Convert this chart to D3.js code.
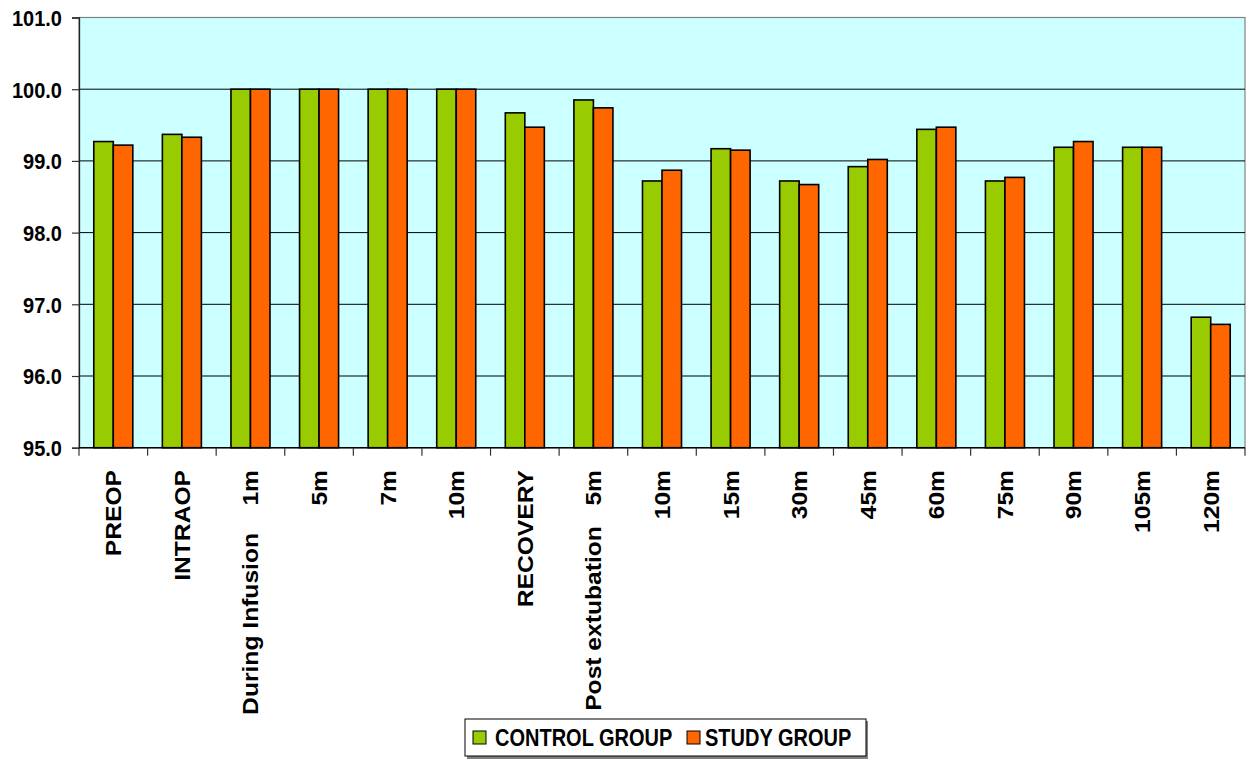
<!DOCTYPE html>
<html>
<head>
<meta charset="utf-8">
<script src="https://cdn.jsdelivr.net/npm/d3@7"></script>
<style>
  html, body { margin: 0; padding: 0; background: #ffffff; }
  svg { display: block; }
  text { font-family: Arial, "Liberation Sans", sans-serif; font-weight: bold; fill: #000; }
</style>
</head>
<body>
<svg id="chart" width="1250" height="760"></svg>
<script>
// Time points along the x axis
const categories = [
  "PREOP", "INTRAOP", "During Infusion    1m", "5m", "7m", "10m",
  "RECOVERY", "Post extubation   5m", "10m", "15m", "30m", "45m",
  "60m", "75m", "90m", "105m", "120m"
];

// Series values
const controlGroup = [99.27, 99.37, 100.0, 100.0, 100.0, 100.0, 99.67, 99.85, 98.72, 99.17, 98.72, 98.92, 99.44, 98.72, 99.19, 99.19, 96.82];
const studyGroup   = [99.22, 99.33, 100.0, 100.0, 100.0, 100.0, 99.47, 99.74, 98.87, 99.15, 98.67, 99.02, 99.47, 98.77, 99.27, 99.19, 96.72];

const seriesNames = ["CONTROL GROUP", "STUDY GROUP"];
const seriesColors = ["#99CC00", "#FF6600"];

// Y axis ticks
const yTicks = [95, 96, 97, 98, 99, 100, 101];

const svg = d3.select("#chart");
const plot = { left: 79, right: 1245, top: 17.5, bottom: 447.7 };
const stretch = 1.12; // vertical stretch applied to all labels

const x0 = d3.scaleBand()
  .domain(d3.range(categories.length))
  .range([plot.left, plot.right])
  .padding(0);

const bw = x0.bandwidth();
const x1 = d3.scaleBand()
  .domain([0, 1])
  .range([bw * 0.2155, bw * 0.7845])
  .padding(0);

const y = d3.scaleLinear().domain([95, 101]).range([plot.bottom, plot.top]);

// Plot area background
svg.append("rect")
  .attr("x", plot.left).attr("y", plot.top)
  .attr("width", plot.right - plot.left).attr("height", plot.bottom - plot.top)
  .attr("fill", "#CCFFFF")
  .attr("stroke", "#808080").attr("stroke-width", 1.2);

// Horizontal gridlines
svg.append("g")
  .selectAll("line")
  .data(yTicks.filter(d => d > 95 && d < 101))
  .join("line")
  .attr("x1", plot.left).attr("x2", plot.right)
  .attr("y1", d => y(d)).attr("y2", d => y(d))
  .attr("stroke", "#000").attr("stroke-width", 1);

// Y axis
const yAxis = svg.append("g")
  .attr("transform", `translate(${plot.left},0)`)
  .call(d3.axisLeft(y).tickValues(yTicks).tickSize(7).tickPadding(0).tickFormat(d3.format(".1f")));
yAxis.select(".domain").attr("stroke", "#222").attr("stroke-width", 1.3);
yAxis.selectAll(".tick line").attr("stroke", "#333").attr("stroke-width", 1.2);
yAxis.selectAll(".tick text")
  .attr("x", 0).attr("dy", null)
  .attr("dominant-baseline", "central")
  .attr("text-anchor", "end")
  .attr("font-size", 20)
  .attr("font-family", "Arial, 'Liberation Sans', sans-serif")
  .attr("font-weight", "bold")
  .attr("transform", `translate(-17,0) scale(1,${stretch})`);

// Bars
const series = [controlGroup, studyGroup];
const groups = svg.append("g")
  .selectAll("g")
  .data(categories.map((c, i) => i))
  .join("g")
  .attr("transform", i => `translate(${x0(i)},0)`);

groups.selectAll("rect")
  .data(i => series.map((s, k) => ({ k, v: s[i] })))
  .join("rect")
  .attr("x", d => x1(d.k))
  .attr("width", x1.bandwidth())
  .attr("y", d => y(d.v))
  .attr("height", d => y(95) - y(d.v))
  .attr("fill", d => seriesColors[d.k])
  .attr("stroke", "#000")
  .attr("stroke-width", 1.6);

// X axis
const xAxisG = svg.append("g").attr("transform", `translate(0,${plot.bottom})`);
xAxisG.append("line")
  .attr("x1", plot.left).attr("x2", plot.right)
  .attr("stroke", "#000").attr("stroke-width", 1.5);
xAxisG.selectAll(".xt")
  .data(d3.range(categories.length + 1))
  .join("line")
  .attr("class", "xt")
  .attr("x1", i => i < categories.length ? x0(i) : plot.right)
  .attr("x2", i => i < categories.length ? x0(i) : plot.right)
  .attr("y1", 0).attr("y2", 8)
  .attr("stroke", "#333").attr("stroke-width", 1.2);

// Rotated category labels
svg.append("g")
  .selectAll("text")
  .data(categories.map((c, i) => ({ c, i })))
  .join("text")
  .attr("transform", d => `translate(${x0(d.i) + bw / 2},470) scale(1,${stretch}) rotate(-90)`)
  .attr("text-anchor", "end")
  .attr("dy", "0.36em")
  .attr("font-size", 22)
  .style("white-space", "pre")
  .text(d => d.c);

// Legend
const legend = svg.append("g");
legend.append("rect")
  .attr("x", 467).attr("y", 721).attr("width", 401).attr("height", 38)
  .attr("fill", "#808080");
legend.append("rect")
  .attr("x", 465).attr("y", 719).attr("width", 401).attr("height", 37)
  .attr("fill", "#fff").attr("stroke", "#000").attr("stroke-width", 1);

const legendItems = [
  { sx: 473, tx: 495 },
  { sx: 687, tx: 705 }
];
legend.selectAll(".sw")
  .data(seriesNames.map((n, k) => ({ n, k })))
  .join("rect")
  .attr("class", "sw")
  .attr("x", d => legendItems[d.k].sx).attr("y", 731)
  .attr("width", 13).attr("height", 13)
  .attr("fill", d => seriesColors[d.k])
  .attr("stroke", "#000").attr("stroke-width", 1);
legend.selectAll(".lt")
  .data(seriesNames.map((n, k) => ({ n, k })))
  .join("text")
  .attr("class", "lt")
  .attr("transform", d => `translate(${legendItems[d.k].tx},737.5) scale(1,1.15)`)
  .attr("dominant-baseline", "central")
  .attr("font-size", 20)
  .text(d => d.n);
</script>
</body>
</html>
